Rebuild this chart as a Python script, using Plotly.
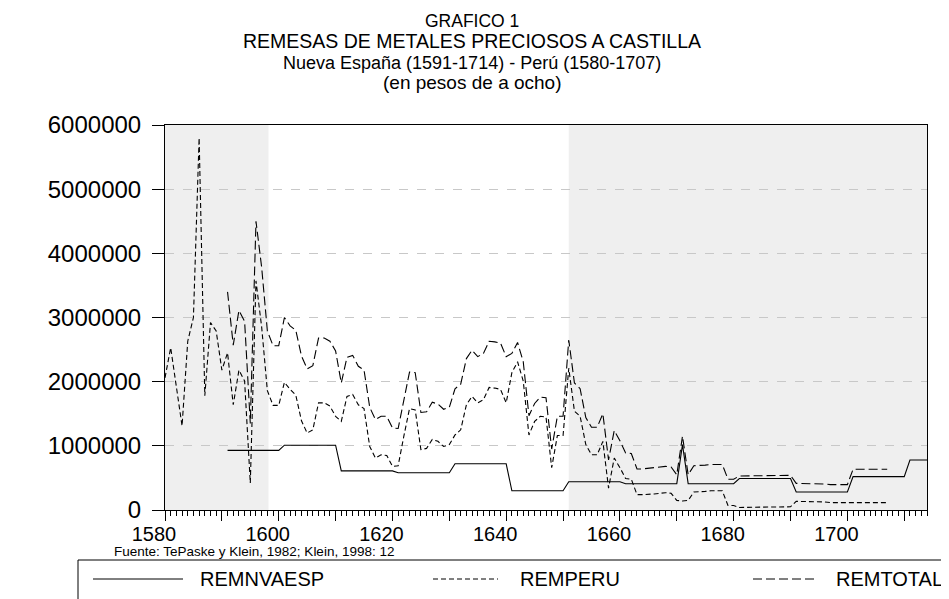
import plotly.graph_objects as go

# ---------------------------------------------------------------------------
# data (pesos de a ocho)
peru_years = list(range(1580, 1708))
rem_peru = [
    2060000, 2530000, 1920000, 1310000, 2630000, 3000000, 5800000, 1780000, 2920000, 2790000,
    2180000, 2450000, 1640000, 2180000, 2010000, 420000, 3570000, 2850000, 1860000, 1630000,
    1630000, 1990000, 1880000, 1790000, 1390000, 1200000, 1250000, 1670000, 1670000, 1620000,
    1460000, 1380000, 1770000, 1800000, 1640000, 1580000, 990000, 810000, 860000, 850000,
    680000, 690000, 1150000, 1580000, 1560000, 940000, 960000, 1100000, 1070000, 990000,
    1020000, 1170000, 1250000, 1640000, 1770000, 1670000, 1720000, 1910000, 1900000, 1880000,
    1670000, 2140000, 2310000, 2010000, 1170000, 1380000, 1460000, 1450000, 660000, 1160000,
    1160000, 2210000, 1540000, 1460000, 1020000, 860000, 860000, 1070000, 340000, 810000,
    660000, 490000, 480000, 240000, 240000, 240000, 250000, 260000, 270000, 260000,
    150000, 140000, 150000, 280000, 280000, 290000, 300000, 300000, 300000, 70000,
    70000, 40000, 40000, 40000, 40000, 40000, 40000, 40000, 40000, 40000,
    50000, 135000, 135000, 135000, 135000, 135000, 125000, 115000, 115000, 115000,
    115000, 115000, 115000, 115000, 115000, 115000, 115000, 115000,
]

nvaesp_years = list(range(1591, 1715))
rem_nvaesp = (
    [930000] * 10 + [1010000] * 10 + [610000] * 10 + [580000] * 10 + [720000] * 10
    + [300000] * 10 + [440000] * 10 + [410000] * 10 + [1020000] + [410000] * 9
    + [490000] * 10 + [280000] * 10 + [520000] * 10 + [780000] * 4
)

total_years = list(range(1591, 1708))
rem_total = [
    3400000, 2570000, 3110000, 2940000, 1350000, 4500000, 3780000, 2790000, 2560000, 2560000,
    3000000, 2870000, 2800000, 2400000, 2200000, 2250000, 2680000, 2680000, 2630000, 2480000,
    1980000, 2380000, 2410000, 2240000, 2180000, 1600000, 1410000, 1460000, 1460000, 1280000,
    1270000, 1720000, 2150000, 2140000, 1520000, 1530000, 1680000, 1650000, 1570000, 1600000,
    1890000, 1960000, 2360000, 2490000, 2390000, 2440000, 2630000, 2620000, 2600000, 2390000,
    2440000, 2610000, 2310000, 1470000, 1660000, 1760000, 1750000, 950000, 1460000, 1460000,
    2650000, 1980000, 1890000, 1440000, 1290000, 1290000, 1500000, 780000, 1240000, 1080000,
    890000, 880000, 640000, 640000, 650000, 660000, 670000, 680000, 670000, 550000,
    1150000, 550000, 690000, 690000, 700000, 710000, 710000, 710000, 480000, 480000,
    530000, 530000, 530000, 530000, 530000, 530000, 530000, 530000, 530000, 540000,
    415000, 415000, 415000, 415000, 415000, 405000, 395000, 395000, 395000, 395000,
    635000, 635000, 635000, 635000, 635000, 635000, 635000,
]

shade_periods = [(1580, 1598.2), (1651, 1714)]
x_tickvals = list(range(1580, 1720, 10))
x_ticktext = ["1580", "", "1600", "", "1620", "", "1640", "", "1660", "", "1680", "", "1700", ""]
y_tickvals = [0, 1000000, 2000000, 3000000, 4000000, 5000000, 6000000]

series_names = ["REMNVAESP", "REMPERU", "REMTOTAL"]
series_dash = ["solid", "5px,3px", "9px,4px"]

# ---------------------------------------------------------------------------
W, H = 949, 599
L, R, T, B = 157, 30, 117, 97
PW, PH = W - L - R, H - T - B
FONT = "Liberation Sans, Arial, sans-serif"


def px(x):
    return (x - L) / PW


def py(y):
    return (H - B - y) / PH


fig = go.Figure()

line_style = dict(color="black", width=1.1)
fig.add_trace(go.Scatter(x=nvaesp_years, y=rem_nvaesp, mode="lines", name=series_names[0],
                         line=dict(line_style, dash=series_dash[0]), showlegend=False))
fig.add_trace(go.Scatter(x=peru_years, y=rem_peru, mode="lines", name=series_names[1],
                         line=dict(line_style, dash=series_dash[1]), showlegend=False))
fig.add_trace(go.Scatter(x=total_years, y=rem_total, mode="lines", name=series_names[2],
                         line=dict(line_style, dash=series_dash[2]), showlegend=False))

shapes = []
for a, b in shade_periods:
    shapes.append(dict(type="rect", xref="x", yref="paper", x0=a, x1=b, y0=0, y1=1,
                       fillcolor="#efefef", line_width=0, layer="below"))

# legend box drawn by hand (long sample lines, box running off the right edge)
shapes.append(dict(type="rect", xref="paper", yref="paper", x0=px(70), x1=px(970),
                   y0=py(592), y1=py(552), line=dict(color="black", width=1)))
leg_lines = [(85, 175), (425, 490), (745, 810)]
leg_text_x = [190, 510, 826]
annotations = []
for i, (a, b) in enumerate(leg_lines):
    shapes.append(dict(type="line", xref="paper", yref="paper", x0=px(a), x1=px(b),
                       y0=py(571), y1=py(571),
                       line=dict(color="black", width=1, dash=series_dash[i])))
    annotations.append(dict(xref="paper", yref="paper", x=px(leg_text_x[i]), y=py(571),
                            text=series_names[i], showarrow=False, xanchor="left",
                            yanchor="middle", font=dict(size=20, family=FONT, color="black")))

titles = [
    ("GRAFICO 1", 13, 17.5),
    ("REMESAS DE METALES PRECIOSOS A CASTILLA", 33, 19.5),
    ("Nueva España (1591-1714) - Perú (1580-1707)", 55, 18),
    ("(en pesos de a ocho)", 75, 19),
]
for txt, yy, sz in titles:
    annotations.append(dict(xref="paper", yref="paper", x=px(464), y=py(yy), text=txt,
                            showarrow=False, xanchor="center", yanchor="middle",
                            font=dict(size=sz, family=FONT, color="black")))

annotations.append(dict(xref="paper", yref="paper", x=px(104), y=py(543),
                        text="Fuente: TePaske y Klein, 1982; Klein, 1998: 12",
                        showarrow=False, xanchor="left", yanchor="middle",
                        font=dict(size=13.5, family=FONT, color="black")))

fig.update_layout(
    width=W, height=H,
    margin=dict(l=L, r=R, t=T, b=B),
    paper_bgcolor="white", plot_bgcolor="white",
    font=dict(family=FONT, color="black"),
    shapes=shapes, annotations=annotations,
    showlegend=False,
)
fig.update_xaxes(range=[1580, 1714], tickvals=x_tickvals, ticktext=x_ticktext,
                 ticks="outside", ticklen=10, tickcolor="black", tickwidth=1,
                 minor=dict(ticks="outside", ticklen=5, tickcolor="black", dtick=1, tick0=1580),
                 showgrid=False, zeroline=False,
                 showline=True, linecolor="black", linewidth=1, mirror=True,
                 tickfont=dict(size=20, family=FONT), ticklabelshift=-11,
                 ticklabelstandoff=-4)
fig.update_yaxes(range=[0, 6000000], tickvals=y_tickvals, tickformat="d",
                 ticks="outside", ticklen=12, tickcolor="black", tickwidth=1,
                 showgrid=True, gridcolor="#c8c8c8", griddash="dash", gridwidth=1,
                 zeroline=False,
                 showline=True, linecolor="black", linewidth=1, mirror=True,
                 tickfont=dict(size=24, family=FONT), ticklabelstandoff=6)

fig.write_html("out.html")
